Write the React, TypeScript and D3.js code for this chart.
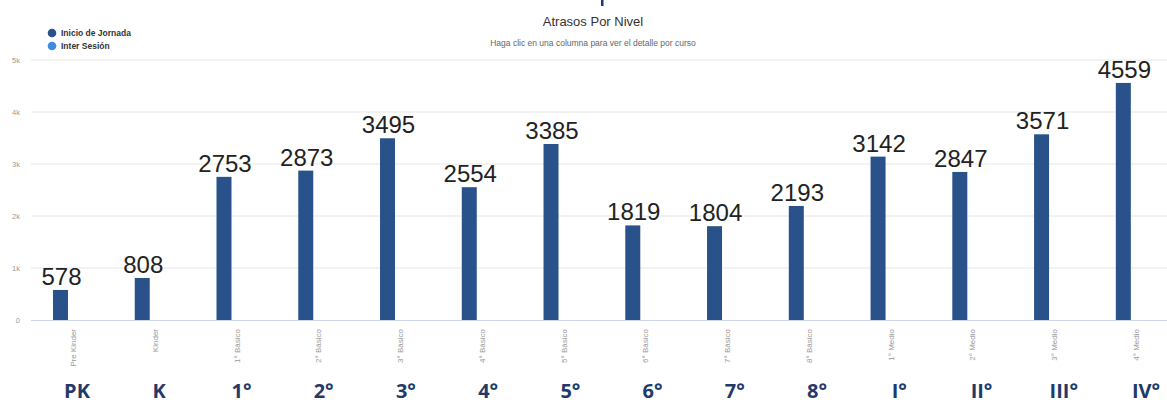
import React from "react";
import * as d3 from "d3";

const categories = [
  "Pre Kinder", "Kinder", "1° Básico", "2° Básico", "3° Básico", "4° Básico",
  "5° Básico", "6° Básico", "7° Básico", "8° Básico", "1° Medio", "2° Medio",
  "3° Medio", "4° Medio",
];
const inicioJornada = [578, 808, 2753, 2873, 3495, 2554, 3385, 1819, 1804, 2193, 3142, 2847, 3571, 4559];
const interSesion = [0, 0, 0, 0, 0, 0, 0, 0, 0, 0, 0, 0, 0, 0];
const seriesNames = ["Inicio de Jornada", "Inter Sesión"];
const shortLabels = ["PK", "K", "1°", "2°", "3°", "4°", "5°", "6°", "7°", "8°", "I°", "II°", "III°", "IV°"];
const yTicks = [0, 1000, 2000, 3000, 4000, 5000];
const yTickLabels = ["0", "1k", "2k", "3k", "4k", "5k"];

const W = 1167;
const H = 405;
const colors = ["#29528a", "#3a8de0"];

export default function App() {
  const x = d3.scaleBand<string>().domain(categories).range([32.4, 1177]).padding(0);
  const bw = x.bandwidth();
  const inner = d3
    .scaleBand<string>()
    .domain(seriesNames)
    .range([bw * 0.187, bw * 0.813])
    .paddingInner(0.414)
    .paddingOuter(0.207);
  const y = d3.scaleLinear().domain([0, 5000]).range([320, 60]);
  const shortX = d3.scalePoint<string>().domain(shortLabels).range([77, 1146]);
  const data = [inicioJornada, interSesion];
  const plotLeft = 31;

  return (
    <svg
      width={W}
      height={H}
      style={{ position: "absolute", left: 0, top: 0, background: "#fff" }}
      fontFamily="'Liberation Sans', Arial, sans-serif"
    >
      <rect x={0} y={0} width={W} height={H} fill="#fff" />
      {/* clipped decoration at top */}
      <rect x={601} y={0} width={2.5} height={6} fill="#1f3a6b" />

      {/* Title */}
      <text x={593} y={26} textAnchor="middle" fontSize={13} fill="#333">
        Atrasos Por Nivel
      </text>
      <text x={593} y={46} textAnchor="middle" fontSize={8.5} fill="#666">
        Haga clic en una columna para ver el detalle por curso
      </text>

      {/* Legend */}
      {seriesNames.map((s, i) => (
        <g key={s}>
          <circle cx={52} cy={33 + i * 13} r={4.3} fill={colors[i]} />
          <text x={61} y={36 + i * 13} fontSize={8.5} fontWeight="bold" fill="#333">
            {s}
          </text>
        </g>
      ))}

      {/* Gridlines */}
      {yTicks.map((t, i) => (
        <g key={t}>
          {t > 0 && (
            <line x1={plotLeft} x2={W} y1={y(t)} y2={y(t)} stroke="#e6e6e6" strokeWidth={1} />
          )}
          <text x={20} y={y(t) + 2.5} textAnchor="end" fontSize={7.5} fill="#999">
            {yTickLabels[i]}
          </text>
        </g>
      ))}
      <line x1={plotLeft} x2={W} y1={y(0) + 0.5} y2={y(0) + 0.5} stroke="#ccd6eb" strokeWidth={1} />

      {/* Bars */}
      {data.map((vals, si) =>
        vals.map((v, ci) => {
          const bx = (x(categories[ci]) ?? 0) + (inner(seriesNames[si]) ?? 0);
          const h = y(0) - y(v);
          return h > 0 ? (
            <rect key={`${si}-${ci}`} x={bx} y={y(v)} width={inner.bandwidth()} height={h} fill={colors[si]} />
          ) : null;
        })
      )}

      {/* Value labels */}
      {inicioJornada.map((v, ci) => {
        const cx = (x(categories[ci]) ?? 0) + (inner(seriesNames[0]) ?? 0) + inner.bandwidth() / 2;
        return (
          <text key={ci} x={cx + 1} y={y(v) - 5} textAnchor="middle" fontSize={24} fill="#222">
            {v}
          </text>
        );
      })}

      {/* X axis labels rotated */}
      {categories.map((c) => {
        const cx = (x(c) ?? 0) + bw / 2;
        return (
          <text
            key={c}
            transform={`translate(${cx + 2.8},329) rotate(-90)`}
            textAnchor="end"
            fontSize={8}
            fill="#999"
          >
            {c}
          </text>
        );
      })}

      {/* Big short labels */}
      {shortLabels.map((s) => (
        <text
          key={s}
          x={shortX(s)}
          y={398}
          textAnchor="middle"
          fontSize={20}
          fontWeight="bold"
          fill="#1f3a6b"
          fontFamily="'Open Sans', Lato, sans-serif"
        >
          {s}
        </text>
      ))}
    </svg>
  );
}
